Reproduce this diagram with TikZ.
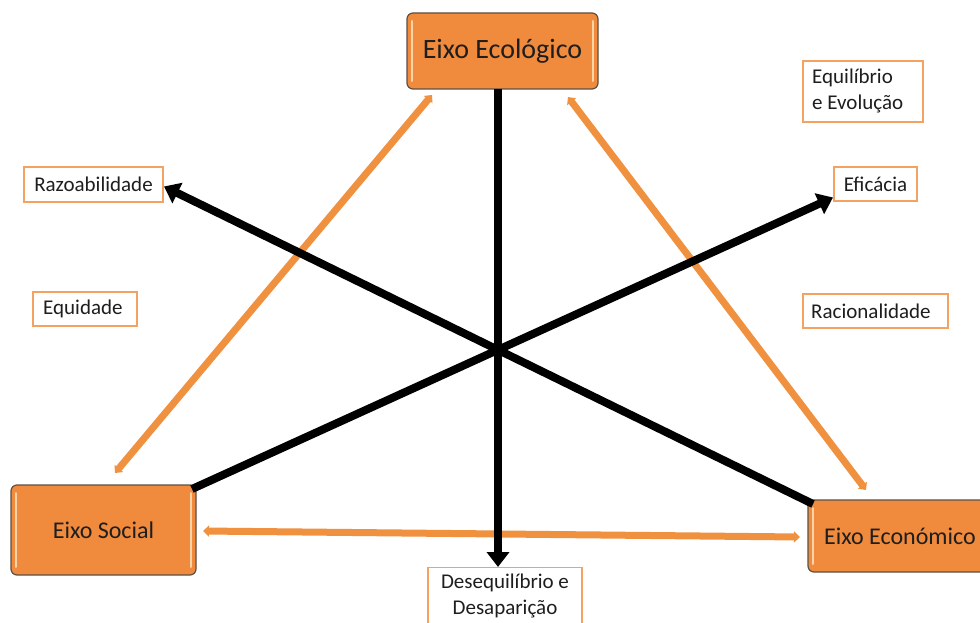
\documentclass[tikz,border=0pt]{standalone}
\usepackage{fontspec}
\setmainfont{Carlito}
\usetikzlibrary{arrows.meta}
\definecolor{boxorange}{HTML}{F08A3C}
\definecolor{boxedge}{HTML}{5A5046}
\definecolor{boxshine}{HTML}{FBD3A8}
\definecolor{lbledge}{HTML}{F4A261}
\definecolor{lineorange}{HTML}{F0913F}
\definecolor{txt}{HTML}{1E1E1E}
\tikzset{
  axis/.style={draw=boxedge, line width=1.2pt, fill=boxorange, rounded corners=6pt,
    text=txt, inner sep=0pt, align=center,
    path picture={
      \draw[boxshine, line width=2pt, line cap=round]
        ([xshift=5pt,yshift=-8pt]path picture bounding box.north west) --
        ([xshift=5pt,yshift=8pt]path picture bounding box.south west);
      \draw[boxshine, line width=2pt, line cap=round]
        ([xshift=-5pt,yshift=-8pt]path picture bounding box.north east) --
        ([xshift=-5pt,yshift=8pt]path picture bounding box.south east);
    }},
  lbl/.style={draw=lbledge, line width=1.1pt, fill=white, text=txt, inner sep=0pt,
    font=\fontsize{21}{26}\selectfont},
  lbltext/.style={text=txt, inner sep=0pt, font=\fontsize{21}{26}\selectfont, align=left, anchor=west},
  blackarrow/.style={line width=8pt, draw=black, -{Triangle[length=15pt,width=22pt]}},
  orangelink/.style={line width=7pt, draw=lineorange,
    {Triangle[length=6pt,width=11pt]}-{Triangle[length=6pt,width=11pt]}},
}
\begin{document}
\begin{tikzpicture}[x=1pt,y=-1pt]
\useasboundingbox (0,0) rectangle (980,623);
\begin{scope}
\clip (0,0) rectangle (980,623);
% axis boxes
\node[axis, minimum width=191pt, minimum height=76pt, font=\fontsize{28}{30}\selectfont] (eco) at (502.5,51) {Eixo Ecológico};
\node[axis, minimum width=185pt, minimum height=90pt, font=\fontsize{24}{26}\selectfont] (soc) at (103.5,530) {Eixo Social};
\node[axis, minimum width=184pt, minimum height=72pt, font=\fontsize{24}{26}\selectfont] (econ) at (900,536) {Eixo Económico};
% label boxes
\node[lbl, minimum width=120pt, minimum height=61pt] (equi) at (863,91.5) {};
\node[lbltext] (equit) at (812,91) {Equilíbrio\\e Evolução};
\node[lbl, minimum width=83pt, minimum height=34pt] (efic) at (875.5,184) {Eficácia};
\node[lbl, minimum width=139pt, minimum height=35pt] (razo) at (93.5,184.5) {Razoabilidade};
\node[lbl, minimum width=104pt, minimum height=34pt] (equid) at (85,309) {};
\node[lbltext] (equidt) at (43,309) {Equidade};
\node[lbl, minimum width=145pt, minimum height=34pt] (raci) at (875.5,311) {};
\node[lbltext] (racit) at (811,311) {Racionalidade};
\node[lbl, minimum width=154pt, minimum height=66pt, anchor=north] (dese) at (505,567) {};
\node[text=txt, inner sep=0pt, font=\fontsize{21}{26}\selectfont, align=center] (deset) at (505,596) {Desequilíbrio e\\Desaparição};
% connector endpoints
\coordinate (ecoL) at (432,95);
\coordinate (socT) at (115,473);
\coordinate (ecoR) at (568,97);
\coordinate (econT) at (866,490);
\coordinate (socR) at (203,531);
\coordinate (econL) at (800,537);
\coordinate (ecoB) at (498,89);
\coordinate (socTR) at (192,489);
\coordinate (econTL) at (813,504);
\coordinate (eficW) at (833,197.5);
\coordinate (razoE) at (164,186.5);
% orange links
\draw[orangelink] (socT) -- (ecoL);
\draw[orangelink] (econT) -- (ecoR);
\draw[orangelink] (socR) -- (econL);
% black arrows
\draw[blackarrow] (ecoB) -- (dese.north -| ecoB);
\draw[blackarrow] (socTR) -- (eficW);
\draw[blackarrow] (econTL) -- (razoE);
\end{scope}
\end{tikzpicture}
\end{document}
